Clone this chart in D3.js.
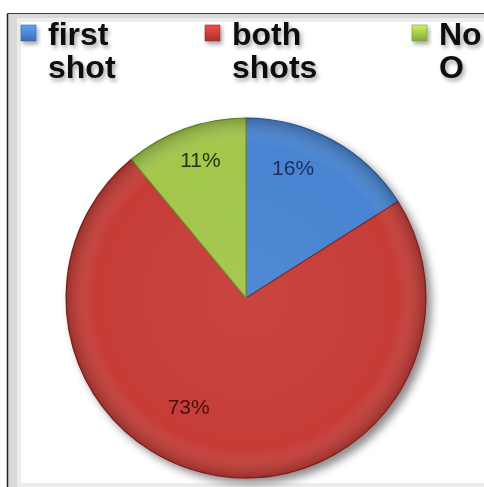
<!DOCTYPE html>
<html>
<head>
<meta charset="utf-8">
<script src="https://cdn.jsdelivr.net/npm/d3@7/dist/d3.min.js"></script>
<style>
  html, body { margin: 0; padding: 0; background: #ffffff; }
  svg { display: block; }
</style>
</head>
<body>
<script>
// Vaccination outcome shares
const categories = ["first shot", "both shots", "No O"];
const legendLines = [["first", "shot"], ["both", "shots"], ["No", "O"]];
const values = [16, 73, 11];
const labels = ["16%", "73%", "11%"];
const colors = ["#4a84d2", "#c63d37", "#a3c64c"];
const edgeColors = ["#2d5a9a", "#8a2420", "#6f8f2c"];
const labelColors = ["#1a2f5e", "#4a0c0c", "#26340a"];

const W = 484, H = 487;
const svg = d3.select("body").append("svg").attr("width", W).attr("height", H);
const defs = svg.append("defs");

// soft shadows for the pie and the legend text
const pieShadow = defs.append("filter").attr("id", "pieShadow")
  .attr("x", "-20%").attr("y", "-20%").attr("width", "150%").attr("height", "150%");
pieShadow.append("feDropShadow").attr("dx", 5).attr("dy", 5)
  .attr("stdDeviation", 4).attr("flood-color", "#000").attr("flood-opacity", 0.45);

const textShadow = defs.append("filter").attr("id", "textShadow")
  .attr("x", "-20%").attr("y", "-30%").attr("width", "150%").attr("height", "170%");
textShadow.append("feDropShadow").attr("dx", 2).attr("dy", 3)
  .attr("stdDeviation", 2).attr("flood-color", "#000").attr("flood-opacity", 0.35);

const labelBlur = defs.append("filter").attr("id", "labelBlur");
labelBlur.append("feGaussianBlur").attr("stdDeviation", 0.5);

// glossy shading over each slice
const gloss = defs.append("radialGradient").attr("id", "gloss")
  .attr("gradientUnits", "userSpaceOnUse")
  .attr("cx", 0).attr("cy", 0).attr("r", 180);
gloss.append("stop").attr("offset", "0%").attr("stop-color", "#fff").attr("stop-opacity", 0.04);
gloss.append("stop").attr("offset", "85%").attr("stop-color", "#fff").attr("stop-opacity", 0.0);
gloss.append("stop").attr("offset", "100%").attr("stop-color", "#000").attr("stop-opacity", 0.22);

colors.forEach((c, i) => {
  const g = defs.append("linearGradient").attr("id", "sq" + i)
    .attr("x1", 0).attr("y1", 0).attr("x2", 0).attr("y2", 1);
  g.append("stop").attr("offset", "0%").attr("stop-color", d3.color(c).brighter(0.6));
  g.append("stop").attr("offset", "100%").attr("stop-color", d3.color(c).darker(0.5));
});

// chart frame: dark outer edge with grey inner bands
svg.append("rect").attr("x", 7).attr("y", 13).attr("width", W).attr("height", H)
  .attr("fill", "#d9d9d9");
svg.append("rect").attr("x", 17).attr("y", 18).attr("width", W).attr("height", H)
  .attr("fill", "#ececec");
svg.append("rect").attr("x", 21).attr("y", 22).attr("width", W).attr("height", 461)
  .attr("fill", "#ffffff");
svg.append("line").attr("x1", 7.5).attr("y1", 13.5).attr("x2", W).attr("y2", 13.5)
  .attr("stroke", "#3a3a3a").attr("stroke-width", 1.2);
svg.append("line").attr("x1", 7.5).attr("y1", 13.5).attr("x2", 7.5).attr("y2", H)
  .attr("stroke", "#222").attr("stroke-width", 1.5);

// legend
const legendX = d3.scaleOrdinal().domain(categories).range([21, 205, 412]);
const legend = svg.append("g");
categories.forEach((cat, i) => {
  const x0 = legendX(cat);
  legend.append("rect").attr("x", x0).attr("y", 25).attr("width", 15).attr("height", 16)
    .attr("fill", `url(#sq${i})`).attr("stroke", d3.color(colors[i]).darker(0.8))
    .attr("stroke-width", 0.6).attr("filter", "url(#textShadow)");
  const t = legend.append("text").attr("x", x0 + 27).attr("y", 45)
    .attr("font-family", "Liberation Sans, Arial, sans-serif")
    .attr("font-weight", "bold").attr("font-size", 32).attr("fill", "#111")
    .attr("filter", "url(#textShadow)");
  legendLines[i].forEach((line, j) => {
    t.append("tspan").attr("x", x0 + 27).attr("dy", j === 0 ? 0 : 33).text(line);
  });
});

// pie
const cx = 246, cy = 298, R = 180;
const pie = d3.pie().sort(null).value(d => d)(values);
const arc = d3.arc().innerRadius(0).outerRadius(R);
const g = svg.append("g").attr("transform", `translate(${cx},${cy})`);

const slices = g.append("g").attr("filter", "url(#pieShadow)");
slices.selectAll("path.slice").data(pie).join("path")
  .attr("class", "slice")
  .attr("d", arc)
  .attr("fill", (d, i) => colors[i])
  .attr("stroke", (d, i) => edgeColors[i])
  .attr("stroke-width", 1.2)
  .attr("stroke-linejoin", "round");
g.selectAll("path.gloss").data(pie).join("path")
  .attr("class", "gloss")
  .attr("d", arc)
  .attr("fill", "url(#gloss)");

// percentage labels: placed at a fraction of each slice's sweep and radius
const labelSweep = [0.345, 0.572, 0.54];
const labelRadius = [0.77, 0.68, 0.81];
g.selectAll("text.pct").data(pie).join("text")
  .attr("class", "pct")
  .attr("transform", (d, i) => {
    const a = d.startAngle + (d.endAngle - d.startAngle) * labelSweep[i];
    const r = R * labelRadius[i];
    return `translate(${r * Math.sin(a)},${-r * Math.cos(a)})`;
  })
  .attr("text-anchor", "middle").attr("dominant-baseline", "central")
  .attr("font-family", "Liberation Sans, Arial, sans-serif")
  .attr("font-size", 21)
  .attr("fill", (d, i) => labelColors[i])
  .attr("filter", "url(#labelBlur)")
  .text((d, i) => labels[i]);
</script>
</body>
</html>
